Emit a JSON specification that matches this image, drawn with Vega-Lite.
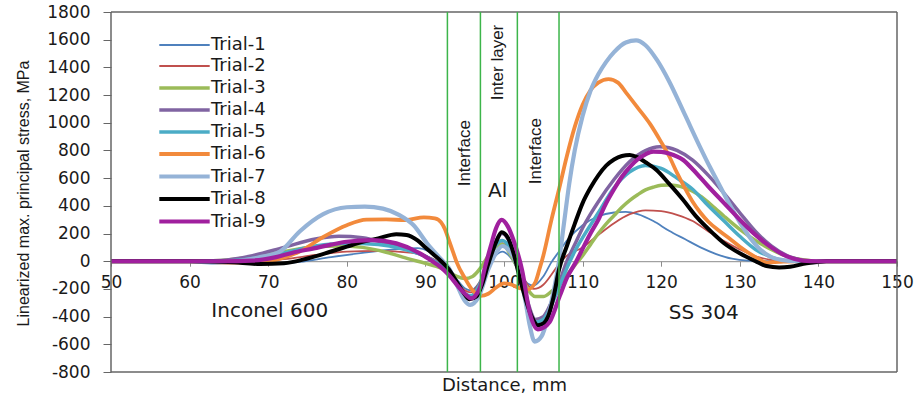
{
  "$schema": "https://vega.github.io/schema/vega-lite/v6.json",
  "width": 786,
  "height": 360,
  "autosize": {"type": "none"},
  "padding": {"left": 111, "top": 12, "right": 22, "bottom": 26},
  "background": "white",
  "config": {
    "view": {"stroke": null},
    "axis": {"grid": false, "labelOverlap": false, "labelFlush": false}
  },
  "datasets": {
    "curves": [
      {"trial":"Trial-1","x":50,"y":0},{"trial":"Trial-1","x":58,"y":0},{"trial":"Trial-1","x":62,"y":-5},{"trial":"Trial-1","x":66,"y":-18},{"trial":"Trial-1","x":70,"y":-20},{"trial":"Trial-1","x":74,"y":-5},{"trial":"Trial-1","x":78,"y":30},{"trial":"Trial-1","x":82,"y":60},{"trial":"Trial-1","x":86,"y":85},{"trial":"Trial-1","x":89,"y":95},{"trial":"Trial-1","x":90.5,"y":70},{"trial":"Trial-1","x":92,"y":10},{"trial":"Trial-1","x":93,"y":-50},{"trial":"Trial-1","x":94,"y":-130},{"trial":"Trial-1","x":95,"y":-195},{"trial":"Trial-1","x":95.8,"y":-210},{"trial":"Trial-1","x":96.8,"y":-160},{"trial":"Trial-1","x":98,"y":-30},{"trial":"Trial-1","x":99,"y":45},{"trial":"Trial-1","x":99.8,"y":70},{"trial":"Trial-1","x":100.8,"y":30},{"trial":"Trial-1","x":102,"y":-80},{"trial":"Trial-1","x":103,"y":-160},{"trial":"Trial-1","x":103.8,"y":-175},{"trial":"Trial-1","x":105,"y":-110},{"trial":"Trial-1","x":106,"y":-10},{"trial":"Trial-1","x":107,"y":70},{"trial":"Trial-1","x":108,"y":150},{"trial":"Trial-1","x":110,"y":260},{"trial":"Trial-1","x":112,"y":325},{"trial":"Trial-1","x":114,"y":352},{"trial":"Trial-1","x":115.5,"y":357},{"trial":"Trial-1","x":117,"y":340},{"trial":"Trial-1","x":119,"y":290},{"trial":"Trial-1","x":121,"y":220},{"trial":"Trial-1","x":123,"y":160},{"trial":"Trial-1","x":125,"y":100},{"trial":"Trial-1","x":127,"y":52},{"trial":"Trial-1","x":129,"y":18},{"trial":"Trial-1","x":131,"y":4},{"trial":"Trial-1","x":134,"y":0},{"trial":"Trial-1","x":150,"y":0},
      {"trial":"Trial-2","x":50,"y":0},{"trial":"Trial-2","x":60,"y":0},{"trial":"Trial-2","x":64,"y":-5},{"trial":"Trial-2","x":68,"y":0},{"trial":"Trial-2","x":72,"y":15},{"trial":"Trial-2","x":76,"y":45},{"trial":"Trial-2","x":80,"y":70},{"trial":"Trial-2","x":84,"y":75},{"trial":"Trial-2","x":88,"y":62},{"trial":"Trial-2","x":90,"y":40},{"trial":"Trial-2","x":92,"y":-20},{"trial":"Trial-2","x":93,"y":-70},{"trial":"Trial-2","x":94,"y":-150},{"trial":"Trial-2","x":95,"y":-210},{"trial":"Trial-2","x":95.8,"y":-225},{"trial":"Trial-2","x":96.8,"y":-160},{"trial":"Trial-2","x":98,"y":0},{"trial":"Trial-2","x":99,"y":105},{"trial":"Trial-2","x":99.8,"y":130},{"trial":"Trial-2","x":100.8,"y":70},{"trial":"Trial-2","x":102,"y":-60},{"trial":"Trial-2","x":103,"y":-170},{"trial":"Trial-2","x":103.8,"y":-200},{"trial":"Trial-2","x":105,"y":-170},{"trial":"Trial-2","x":106,"y":-100},{"trial":"Trial-2","x":107,"y":-20},{"trial":"Trial-2","x":108,"y":40},{"trial":"Trial-2","x":110,"y":100},{"trial":"Trial-2","x":112,"y":190},{"trial":"Trial-2","x":114,"y":275},{"trial":"Trial-2","x":116,"y":340},{"trial":"Trial-2","x":118,"y":368},{"trial":"Trial-2","x":120,"y":362},{"trial":"Trial-2","x":122,"y":335},{"trial":"Trial-2","x":124,"y":290},{"trial":"Trial-2","x":126,"y":215},{"trial":"Trial-2","x":128,"y":145},{"trial":"Trial-2","x":130,"y":85},{"trial":"Trial-2","x":132,"y":35},{"trial":"Trial-2","x":134,"y":10},{"trial":"Trial-2","x":136,"y":0},{"trial":"Trial-2","x":150,"y":0},
      {"trial":"Trial-3","x":50,"y":0},{"trial":"Trial-3","x":60,"y":0},{"trial":"Trial-3","x":64,"y":5},{"trial":"Trial-3","x":68,"y":30},{"trial":"Trial-3","x":72,"y":70},{"trial":"Trial-3","x":76,"y":105},{"trial":"Trial-3","x":79,"y":110},{"trial":"Trial-3","x":82,"y":100},{"trial":"Trial-3","x":85,"y":65},{"trial":"Trial-3","x":88,"y":15},{"trial":"Trial-3","x":90,"y":-15},{"trial":"Trial-3","x":92,"y":-50},{"trial":"Trial-3","x":93,"y":-80},{"trial":"Trial-3","x":94,"y":-110},{"trial":"Trial-3","x":95,"y":-125},{"trial":"Trial-3","x":96,"y":-110},{"trial":"Trial-3","x":97,"y":-50},{"trial":"Trial-3","x":98,"y":40},{"trial":"Trial-3","x":99,"y":105},{"trial":"Trial-3","x":99.8,"y":120},{"trial":"Trial-3","x":100.8,"y":50},{"trial":"Trial-3","x":102,"y":-80},{"trial":"Trial-3","x":103,"y":-200},{"trial":"Trial-3","x":104,"y":-255},{"trial":"Trial-3","x":105,"y":-255},{"trial":"Trial-3","x":106,"y":-220},{"trial":"Trial-3","x":107,"y":-170},{"trial":"Trial-3","x":108,"y":-100},{"trial":"Trial-3","x":109,"y":-30},{"trial":"Trial-3","x":110,"y":40},{"trial":"Trial-3","x":111,"y":120},{"trial":"Trial-3","x":112,"y":200},{"trial":"Trial-3","x":113,"y":270},{"trial":"Trial-3","x":114,"y":330},{"trial":"Trial-3","x":115,"y":390},{"trial":"Trial-3","x":116,"y":440},{"trial":"Trial-3","x":117,"y":480},{"trial":"Trial-3","x":118,"y":515},{"trial":"Trial-3","x":119,"y":535},{"trial":"Trial-3","x":120,"y":548},{"trial":"Trial-3","x":121,"y":550},{"trial":"Trial-3","x":122,"y":545},{"trial":"Trial-3","x":123,"y":530},{"trial":"Trial-3","x":124,"y":505},{"trial":"Trial-3","x":125,"y":470},{"trial":"Trial-3","x":126,"y":425},{"trial":"Trial-3","x":127,"y":375},{"trial":"Trial-3","x":128,"y":325},{"trial":"Trial-3","x":130,"y":230},{"trial":"Trial-3","x":132,"y":150},{"trial":"Trial-3","x":134,"y":85},{"trial":"Trial-3","x":136,"y":35},{"trial":"Trial-3","x":138,"y":10},{"trial":"Trial-3","x":140,"y":0},{"trial":"Trial-3","x":150,"y":0},
      {"trial":"Trial-4","x":50,"y":0},{"trial":"Trial-4","x":60,"y":0},{"trial":"Trial-4","x":64,"y":5},{"trial":"Trial-4","x":68,"y":40},{"trial":"Trial-4","x":72,"y":100},{"trial":"Trial-4","x":76,"y":160},{"trial":"Trial-4","x":79,"y":180},{"trial":"Trial-4","x":82,"y":170},{"trial":"Trial-4","x":85,"y":130},{"trial":"Trial-4","x":88,"y":80},{"trial":"Trial-4","x":90,"y":35},{"trial":"Trial-4","x":92,"y":-30},{"trial":"Trial-4","x":93,"y":-80},{"trial":"Trial-4","x":94,"y":-160},{"trial":"Trial-4","x":95,"y":-235},{"trial":"Trial-4","x":95.8,"y":-255},{"trial":"Trial-4","x":96.8,"y":-190},{"trial":"Trial-4","x":98,"y":-20},{"trial":"Trial-4","x":99,"y":150},{"trial":"Trial-4","x":99.8,"y":200},{"trial":"Trial-4","x":100.8,"y":130},{"trial":"Trial-4","x":102,"y":-60},{"trial":"Trial-4","x":103,"y":-290},{"trial":"Trial-4","x":104,"y":-420},{"trial":"Trial-4","x":105,"y":-400},{"trial":"Trial-4","x":106,"y":-300},{"trial":"Trial-4","x":107,"y":-160},{"trial":"Trial-4","x":108,"y":0},{"trial":"Trial-4","x":109,"y":120},{"trial":"Trial-4","x":110,"y":240},{"trial":"Trial-4","x":111,"y":340},{"trial":"Trial-4","x":112,"y":430},{"trial":"Trial-4","x":114,"y":590},{"trial":"Trial-4","x":116,"y":720},{"trial":"Trial-4","x":118,"y":800},{"trial":"Trial-4","x":119.8,"y":827},{"trial":"Trial-4","x":121,"y":820},{"trial":"Trial-4","x":122,"y":800},{"trial":"Trial-4","x":124,"y":730},{"trial":"Trial-4","x":126,"y":620},{"trial":"Trial-4","x":128,"y":490},{"trial":"Trial-4","x":130,"y":350},{"trial":"Trial-4","x":132,"y":215},{"trial":"Trial-4","x":134,"y":110},{"trial":"Trial-4","x":136,"y":40},{"trial":"Trial-4","x":138,"y":5},{"trial":"Trial-4","x":139.5,"y":-10},{"trial":"Trial-4","x":141,"y":0},{"trial":"Trial-4","x":150,"y":0},
      {"trial":"Trial-5","x":50,"y":0},{"trial":"Trial-5","x":60,"y":0},{"trial":"Trial-5","x":64,"y":0},{"trial":"Trial-5","x":68,"y":20},{"trial":"Trial-5","x":72,"y":60},{"trial":"Trial-5","x":76,"y":110},{"trial":"Trial-5","x":80,"y":130},{"trial":"Trial-5","x":84,"y":120},{"trial":"Trial-5","x":87,"y":90},{"trial":"Trial-5","x":90,"y":35},{"trial":"Trial-5","x":92,"y":-35},{"trial":"Trial-5","x":93,"y":-85},{"trial":"Trial-5","x":94,"y":-165},{"trial":"Trial-5","x":95,"y":-235},{"trial":"Trial-5","x":95.8,"y":-250},{"trial":"Trial-5","x":96.8,"y":-180},{"trial":"Trial-5","x":98,"y":0},{"trial":"Trial-5","x":99,"y":120},{"trial":"Trial-5","x":99.8,"y":150},{"trial":"Trial-5","x":100.8,"y":90},{"trial":"Trial-5","x":102,"y":-90},{"trial":"Trial-5","x":103,"y":-320},{"trial":"Trial-5","x":104,"y":-440},{"trial":"Trial-5","x":105,"y":-420},{"trial":"Trial-5","x":106,"y":-320},{"trial":"Trial-5","x":107,"y":-190},{"trial":"Trial-5","x":108,"y":-50},{"trial":"Trial-5","x":109,"y":70},{"trial":"Trial-5","x":110,"y":170},{"trial":"Trial-5","x":112,"y":350},{"trial":"Trial-5","x":114,"y":530},{"trial":"Trial-5","x":116,"y":645},{"trial":"Trial-5","x":118,"y":692},{"trial":"Trial-5","x":120,"y":670},{"trial":"Trial-5","x":122,"y":600},{"trial":"Trial-5","x":124,"y":520},{"trial":"Trial-5","x":126,"y":400},{"trial":"Trial-5","x":128,"y":290},{"trial":"Trial-5","x":130,"y":180},{"trial":"Trial-5","x":132,"y":85},{"trial":"Trial-5","x":134,"y":30},{"trial":"Trial-5","x":136,"y":3},{"trial":"Trial-5","x":150,"y":0},
      {"trial":"Trial-6","x":50,"y":0},{"trial":"Trial-6","x":60,"y":0},{"trial":"Trial-6","x":64,"y":-10},{"trial":"Trial-6","x":68,"y":-10},{"trial":"Trial-6","x":71,"y":10},{"trial":"Trial-6","x":74,"y":70},{"trial":"Trial-6","x":77,"y":175},{"trial":"Trial-6","x":80,"y":260},{"trial":"Trial-6","x":82.5,"y":300},{"trial":"Trial-6","x":85,"y":302},{"trial":"Trial-6","x":87.5,"y":297},{"trial":"Trial-6","x":89.8,"y":317},{"trial":"Trial-6","x":91.2,"y":310},{"trial":"Trial-6","x":92,"y":280},{"trial":"Trial-6","x":92.5,"y":230},{"trial":"Trial-6","x":93,"y":150},{"trial":"Trial-6","x":93.5,"y":70},{"trial":"Trial-6","x":94,"y":-10},{"trial":"Trial-6","x":95,"y":-120},{"trial":"Trial-6","x":96,"y":-210},{"trial":"Trial-6","x":97,"y":-250},{"trial":"Trial-6","x":98,"y":-235},{"trial":"Trial-6","x":99,"y":-190},{"trial":"Trial-6","x":100,"y":-160},{"trial":"Trial-6","x":101,"y":-170},{"trial":"Trial-6","x":102,"y":-195},{"trial":"Trial-6","x":103,"y":-205},{"trial":"Trial-6","x":104,"y":-150},{"trial":"Trial-6","x":104.5,"y":-60},{"trial":"Trial-6","x":105,"y":40},{"trial":"Trial-6","x":106,"y":290},{"trial":"Trial-6","x":107,"y":520},{"trial":"Trial-6","x":108,"y":760},{"trial":"Trial-6","x":109,"y":970},{"trial":"Trial-6","x":110,"y":1130},{"trial":"Trial-6","x":111,"y":1235},{"trial":"Trial-6","x":112,"y":1290},{"trial":"Trial-6","x":113.3,"y":1315},{"trial":"Trial-6","x":114.5,"y":1290},{"trial":"Trial-6","x":115.5,"y":1220},{"trial":"Trial-6","x":117,"y":1110},{"trial":"Trial-6","x":118.6,"y":990},{"trial":"Trial-6","x":120,"y":860},{"trial":"Trial-6","x":121,"y":760},{"trial":"Trial-6","x":122,"y":640},{"trial":"Trial-6","x":123,"y":530},{"trial":"Trial-6","x":124,"y":430},{"trial":"Trial-6","x":125,"y":350},{"trial":"Trial-6","x":126,"y":285},{"trial":"Trial-6","x":127.5,"y":215},{"trial":"Trial-6","x":129,"y":150},{"trial":"Trial-6","x":130,"y":105},{"trial":"Trial-6","x":132,"y":30},{"trial":"Trial-6","x":133.5,"y":-10},{"trial":"Trial-6","x":135,"y":-5},{"trial":"Trial-6","x":137,"y":0},{"trial":"Trial-6","x":150,"y":0},
      {"trial":"Trial-7","x":50,"y":0},{"trial":"Trial-7","x":60,"y":0},{"trial":"Trial-7","x":63,"y":-10},{"trial":"Trial-7","x":66,"y":0},{"trial":"Trial-7","x":69,"y":30},{"trial":"Trial-7","x":71.5,"y":70},{"trial":"Trial-7","x":74,"y":215},{"trial":"Trial-7","x":77,"y":340},{"trial":"Trial-7","x":80,"y":390},{"trial":"Trial-7","x":82.3,"y":395},{"trial":"Trial-7","x":84.6,"y":380},{"trial":"Trial-7","x":86.7,"y":333},{"trial":"Trial-7","x":88.5,"y":260},{"trial":"Trial-7","x":90.2,"y":130},{"trial":"Trial-7","x":91.9,"y":20},{"trial":"Trial-7","x":93,"y":-50},{"trial":"Trial-7","x":94,"y":-170},{"trial":"Trial-7","x":95,"y":-285},{"trial":"Trial-7","x":95.7,"y":-315},{"trial":"Trial-7","x":96.7,"y":-265},{"trial":"Trial-7","x":98,"y":-60},{"trial":"Trial-7","x":99,"y":60},{"trial":"Trial-7","x":99.8,"y":110},{"trial":"Trial-7","x":100.6,"y":80},{"trial":"Trial-7","x":101.3,"y":20},{"trial":"Trial-7","x":102,"y":-100},{"trial":"Trial-7","x":102.7,"y":-280},{"trial":"Trial-7","x":103.3,"y":-470},{"trial":"Trial-7","x":103.9,"y":-580},{"trial":"Trial-7","x":104.8,"y":-540},{"trial":"Trial-7","x":105.6,"y":-400},{"trial":"Trial-7","x":106.3,"y":-220},{"trial":"Trial-7","x":107,"y":0},{"trial":"Trial-7","x":107.6,"y":260},{"trial":"Trial-7","x":108.3,"y":560},{"trial":"Trial-7","x":109,"y":800},{"trial":"Trial-7","x":110,"y":1050},{"trial":"Trial-7","x":111,"y":1230},{"trial":"Trial-7","x":112,"y":1350},{"trial":"Trial-7","x":113,"y":1440},{"trial":"Trial-7","x":114,"y":1510},{"trial":"Trial-7","x":115.5,"y":1580},{"trial":"Trial-7","x":116.8,"y":1595},{"trial":"Trial-7","x":118,"y":1560},{"trial":"Trial-7","x":119.5,"y":1450},{"trial":"Trial-7","x":121,"y":1300},{"trial":"Trial-7","x":123,"y":1060},{"trial":"Trial-7","x":124.9,"y":830},{"trial":"Trial-7","x":126.2,"y":680},{"trial":"Trial-7","x":127.5,"y":540},{"trial":"Trial-7","x":128.8,"y":400},{"trial":"Trial-7","x":130,"y":280},{"trial":"Trial-7","x":131.3,"y":170},{"trial":"Trial-7","x":132.6,"y":85},{"trial":"Trial-7","x":134,"y":30},{"trial":"Trial-7","x":135.5,"y":8},{"trial":"Trial-7","x":137,"y":0},{"trial":"Trial-7","x":150,"y":0},
      {"trial":"Trial-8","x":50,"y":0},{"trial":"Trial-8","x":60,"y":0},{"trial":"Trial-8","x":65,"y":-5},{"trial":"Trial-8","x":69,"y":-20},{"trial":"Trial-8","x":72,"y":-15},{"trial":"Trial-8","x":75,"y":20},{"trial":"Trial-8","x":78,"y":70},{"trial":"Trial-8","x":80,"y":105},{"trial":"Trial-8","x":82,"y":140},{"trial":"Trial-8","x":84,"y":165},{"trial":"Trial-8","x":86.3,"y":195},{"trial":"Trial-8","x":87.6,"y":190},{"trial":"Trial-8","x":89,"y":150},{"trial":"Trial-8","x":90,"y":100},{"trial":"Trial-8","x":91,"y":50},{"trial":"Trial-8","x":92,"y":0},{"trial":"Trial-8","x":93,"y":-60},{"trial":"Trial-8","x":94,"y":-150},{"trial":"Trial-8","x":95,"y":-240},{"trial":"Trial-8","x":95.6,"y":-275},{"trial":"Trial-8","x":96.5,"y":-255},{"trial":"Trial-8","x":97.2,"y":-170},{"trial":"Trial-8","x":98,"y":-20},{"trial":"Trial-8","x":99,"y":140},{"trial":"Trial-8","x":99.7,"y":210},{"trial":"Trial-8","x":100.5,"y":170},{"trial":"Trial-8","x":101.3,"y":40},{"trial":"Trial-8","x":102,"y":-120},{"trial":"Trial-8","x":103,"y":-320},{"trial":"Trial-8","x":103.6,"y":-410},{"trial":"Trial-8","x":104.3,"y":-462},{"trial":"Trial-8","x":105,"y":-450},{"trial":"Trial-8","x":105.6,"y":-400},{"trial":"Trial-8","x":106.3,"y":-260},{"trial":"Trial-8","x":107,"y":-60},{"trial":"Trial-8","x":108,"y":110},{"trial":"Trial-8","x":109,"y":270},{"trial":"Trial-8","x":110,"y":420},{"trial":"Trial-8","x":111,"y":530},{"trial":"Trial-8","x":112,"y":620},{"trial":"Trial-8","x":113,"y":690},{"trial":"Trial-8","x":114,"y":735},{"trial":"Trial-8","x":115,"y":760},{"trial":"Trial-8","x":116,"y":767},{"trial":"Trial-8","x":117,"y":750},{"trial":"Trial-8","x":118,"y":715},{"trial":"Trial-8","x":119.4,"y":659},{"trial":"Trial-8","x":121,"y":560},{"trial":"Trial-8","x":122.8,"y":442},{"trial":"Trial-8","x":124.5,"y":320},{"trial":"Trial-8","x":126.6,"y":201},{"trial":"Trial-8","x":128,"y":130},{"trial":"Trial-8","x":130,"y":57},{"trial":"Trial-8","x":132,"y":0},{"trial":"Trial-8","x":133.4,"y":-35},{"trial":"Trial-8","x":135,"y":-45},{"trial":"Trial-8","x":136.4,"y":-40},{"trial":"Trial-8","x":138.5,"y":-15},{"trial":"Trial-8","x":141,"y":0},{"trial":"Trial-8","x":150,"y":0},
      {"trial":"Trial-9","x":50,"y":0},{"trial":"Trial-9","x":60,"y":0},{"trial":"Trial-9","x":64,"y":0},{"trial":"Trial-9","x":68,"y":5},{"trial":"Trial-9","x":71,"y":30},{"trial":"Trial-9","x":73,"y":60},{"trial":"Trial-9","x":75.8,"y":93},{"trial":"Trial-9","x":78,"y":120},{"trial":"Trial-9","x":80,"y":141},{"trial":"Trial-9","x":83.2,"y":153},{"trial":"Trial-9","x":86.3,"y":129},{"trial":"Trial-9","x":89.3,"y":57},{"trial":"Trial-9","x":90.6,"y":10},{"trial":"Trial-9","x":91.9,"y":-40},{"trial":"Trial-9","x":93,"y":-100},{"trial":"Trial-9","x":94,"y":-170},{"trial":"Trial-9","x":95.2,"y":-244},{"trial":"Trial-9","x":95.8,"y":-268},{"trial":"Trial-9","x":96.9,"y":-196},{"trial":"Trial-9","x":97.6,"y":-40},{"trial":"Trial-9","x":98.3,"y":105},{"trial":"Trial-9","x":99,"y":240},{"trial":"Trial-9","x":99.7,"y":298},{"trial":"Trial-9","x":100.5,"y":250},{"trial":"Trial-9","x":101.2,"y":153},{"trial":"Trial-9","x":102.3,"y":-64},{"trial":"Trial-9","x":103.3,"y":-378},{"trial":"Trial-9","x":104.3,"y":-492},{"trial":"Trial-9","x":105,"y":-480},{"trial":"Trial-9","x":105.8,"y":-440},{"trial":"Trial-9","x":107.1,"y":-250},{"trial":"Trial-9","x":108,"y":-120},{"trial":"Trial-9","x":109.2,"y":0},{"trial":"Trial-9","x":110,"y":90},{"trial":"Trial-9","x":111,"y":200},{"trial":"Trial-9","x":112,"y":300},{"trial":"Trial-9","x":113,"y":420},{"trial":"Trial-9","x":114,"y":520},{"trial":"Trial-9","x":115,"y":610},{"trial":"Trial-9","x":116,"y":680},{"trial":"Trial-9","x":117,"y":735},{"trial":"Trial-9","x":118,"y":772},{"trial":"Trial-9","x":119,"y":791},{"trial":"Trial-9","x":120,"y":790},{"trial":"Trial-9","x":121,"y":778},{"trial":"Trial-9","x":122.8,"y":731},{"trial":"Trial-9","x":124,"y":665},{"trial":"Trial-9","x":126,"y":540},{"trial":"Trial-9","x":128,"y":420},{"trial":"Trial-9","x":130,"y":300},{"trial":"Trial-9","x":132,"y":190},{"trial":"Trial-9","x":134,"y":100},{"trial":"Trial-9","x":136,"y":35},{"trial":"Trial-9","x":138,"y":5},{"trial":"Trial-9","x":140,"y":0},{"trial":"Trial-9","x":150,"y":0}
    ],
    "vframe": [{"x": 50}, {"x": 150}],
    "hframe": [{"y": -800}, {"y": 1800}],
    "bounds": [{"x": 92.8}, {"x": 97.0}, {"x": 101.7}, {"x": 107.0}],
    "labels": [
      {"label": "Inconel 600", "x": 70.2, "y": -360},
      {"label": "SS 304", "x": 125.4, "y": -372},
      {"label": "Al", "x": 99.2, "y": 507}
    ],
    "vlabels": [
      {"label": "Interface", "x": 95.0, "y": 780},
      {"label": "Inter layer", "x": 99.2, "y": 1435},
      {"label": "Interface", "x": 104.1, "y": 795}
    ]
  },
  "layer": [
    {
      "data": {"name": "curves"},
      "mark": {"type": "line", "interpolate": "monotone"},
      "encoding": {
        "x": {
          "field": "x", "type": "quantitative",
          "scale": {"domain": [50, 150], "nice": false, "zero": false},
          "axis": {
            "title": "Distance, mm",
            "values": [50, 60, 70, 80, 90, 100, 110, 120, 130, 140, 150],
            "offset": -110.8,
            "domainColor": "#8c8c8c", "domainWidth": 1,
            "tickColor": "#8c8c8c", "tickSize": 5,
            "labelPadding": 8, "labelFont": "DejaVu Sans", "labelFontSize": 17,
            "labelColor": "#1a1a1a", "labelFlush": false, "labelOverlap": false,
            "titleFont": "DejaVu Sans", "titleFontSize": 18, "titleFontWeight": "normal",
            "titleColor": "#1a1a1a", "titleX": 393, "titleY": 128.8,
            "titleBaseline": "alphabetic", "titleAlign": "center"
          }
        },
        "y": {
          "field": "y", "type": "quantitative",
          "scale": {"domain": [-800, 1800], "nice": false, "zero": false},
          "axis": {
            "title": "Linearized max. principal stress, MPa",
            "values": [-800, -600, -400, -200, 0, 200, 400, 600, 800, 1000, 1200, 1400, 1600, 1800],
            "labelExpr": "datum.value < 0 ? '-' + abs(datum.value) : '' + datum.value",
            "domain": false,
            "tickColor": "#666666", "tickSize": 8,
            "labelPadding": 13, "labelFont": "DejaVu Sans", "labelFontSize": 17,
            "labelColor": "#1a1a1a", "labelOverlap": false, "labelFlush": false,
            "titleFont": "Liberation Sans", "titleFontSize": 16, "titleFontWeight": "normal",
            "titleColor": "#1a1a1a", "titleX": -83, "titleY": 181, "titleAngle": 270,
            "titleBaseline": "alphabetic", "titleAlign": "center"
          }
        },
        "color": {
          "field": "trial", "type": "nominal",
          "scale": {
            "domain": ["Trial-1", "Trial-2", "Trial-3", "Trial-4", "Trial-5", "Trial-6", "Trial-7", "Trial-8", "Trial-9"],
            "range": ["#4f81bd", "#c0504d", "#9bbb59", "#8064a2", "#4bacc6", "#f28a3c", "#95b3d7", "#000000", "#a0209e"]
          },
          "legend": {
            "title": null, "orient": "none", "legendX": 62, "legendY": 23,
            "symbolType": "M-2.8,0H2.8", "symbolSize": 324, "labelOffset": 15,
            "rowPadding": 2, "padding": 0,
            "labelFont": "DejaVu Sans", "labelFontSize": 18, "labelColor": "#1a1a1a"
          }
        },
        "strokeWidth": {
          "field": "trial", "type": "nominal",
          "scale": {
            "type": "ordinal",
            "domain": ["Trial-1", "Trial-2", "Trial-3", "Trial-4", "Trial-5", "Trial-6", "Trial-7", "Trial-8", "Trial-9"],
            "range": [1.8, 1.8, 3.5, 3.5, 3.5, 3.8, 4.2, 4, 4.2]
          },
          "legend": {
            "title": null, "orient": "none", "legendX": 62, "legendY": 23,
            "symbolType": "M-2.8,0H2.8", "symbolSize": 324, "labelOffset": 15,
            "rowPadding": 2, "padding": 0,
            "labelFont": "DejaVu Sans", "labelFontSize": 18, "labelColor": "#1a1a1a"
          }
        }
      }
    },
    {
      "data": {"name": "vframe"},
      "mark": {"type": "rule", "color": "#666666", "strokeWidth": 1.5},
      "encoding": {
        "x": {
          "field": "x", "type": "quantitative",
          "axis": {
            "title": "Distance, mm",
            "values": [50, 60, 70, 80, 90, 100, 110, 120, 130, 140, 150],
            "offset": -110.8,
            "domainColor": "#8c8c8c", "domainWidth": 1,
            "tickColor": "#8c8c8c", "tickSize": 5,
            "labelPadding": 8, "labelFont": "DejaVu Sans", "labelFontSize": 17,
            "labelColor": "#1a1a1a", "labelFlush": false, "labelOverlap": false,
            "titleFont": "DejaVu Sans", "titleFontSize": 18, "titleFontWeight": "normal",
            "titleColor": "#1a1a1a", "titleX": 393, "titleY": 128.8,
            "titleBaseline": "alphabetic", "titleAlign": "center"
          }
        }
      }
    },
    {
      "data": {"name": "hframe"},
      "mark": {"type": "rule", "color": "#666666", "strokeWidth": 1.5},
      "encoding": {
        "y": {
          "field": "y", "type": "quantitative",
          "axis": {
            "title": "Linearized max. principal stress, MPa",
            "values": [-800, -600, -400, -200, 0, 200, 400, 600, 800, 1000, 1200, 1400, 1600, 1800],
            "labelExpr": "datum.value < 0 ? '-' + abs(datum.value) : '' + datum.value",
            "domain": false,
            "tickColor": "#666666", "tickSize": 8,
            "labelPadding": 13, "labelFont": "DejaVu Sans", "labelFontSize": 17,
            "labelColor": "#1a1a1a", "labelOverlap": false, "labelFlush": false,
            "titleFont": "Liberation Sans", "titleFontSize": 16, "titleFontWeight": "normal",
            "titleColor": "#1a1a1a", "titleX": -83, "titleY": 181, "titleAngle": 270,
            "titleBaseline": "alphabetic", "titleAlign": "center"
          }
        }
      }
    },
    {
      "data": {"name": "bounds"},
      "mark": {"type": "rule", "color": "#3cb54a", "strokeWidth": 1.5},
      "encoding": {
        "x": {
          "field": "x", "type": "quantitative",
          "axis": {
            "title": "Distance, mm",
            "values": [50, 60, 70, 80, 90, 100, 110, 120, 130, 140, 150],
            "offset": -110.8,
            "domainColor": "#8c8c8c", "domainWidth": 1,
            "tickColor": "#8c8c8c", "tickSize": 5,
            "labelPadding": 8, "labelFont": "DejaVu Sans", "labelFontSize": 17,
            "labelColor": "#1a1a1a", "labelFlush": false, "labelOverlap": false,
            "titleFont": "DejaVu Sans", "titleFontSize": 18, "titleFontWeight": "normal",
            "titleColor": "#1a1a1a", "titleX": 393, "titleY": 128.8,
            "titleBaseline": "alphabetic", "titleAlign": "center"
          }
        }
      }
    },
    {
      "data": {"name": "labels"},
      "mark": {"type": "text", "font": "DejaVu Sans", "fontSize": 20, "color": "#1a1a1a", "align": "center", "baseline": "middle"},
      "encoding": {
        "x": {
          "field": "x", "type": "quantitative",
          "axis": {
            "title": "Distance, mm",
            "values": [50, 60, 70, 80, 90, 100, 110, 120, 130, 140, 150],
            "offset": -110.8,
            "domainColor": "#8c8c8c", "domainWidth": 1,
            "tickColor": "#8c8c8c", "tickSize": 5,
            "labelPadding": 8, "labelFont": "DejaVu Sans", "labelFontSize": 17,
            "labelColor": "#1a1a1a", "labelFlush": false, "labelOverlap": false,
            "titleFont": "DejaVu Sans", "titleFontSize": 18, "titleFontWeight": "normal",
            "titleColor": "#1a1a1a", "titleX": 393, "titleY": 128.8,
            "titleBaseline": "alphabetic", "titleAlign": "center"
          }
        },
        "y": {
          "field": "y", "type": "quantitative",
          "axis": {
            "title": "Linearized max. principal stress, MPa",
            "values": [-800, -600, -400, -200, 0, 200, 400, 600, 800, 1000, 1200, 1400, 1600, 1800],
            "labelExpr": "datum.value < 0 ? '-' + abs(datum.value) : '' + datum.value",
            "domain": false,
            "tickColor": "#666666", "tickSize": 8,
            "labelPadding": 13, "labelFont": "DejaVu Sans", "labelFontSize": 17,
            "labelColor": "#1a1a1a", "labelOverlap": false, "labelFlush": false,
            "titleFont": "Liberation Sans", "titleFontSize": 16, "titleFontWeight": "normal",
            "titleColor": "#1a1a1a", "titleX": -83, "titleY": 181, "titleAngle": 270,
            "titleBaseline": "alphabetic", "titleAlign": "center"
          }
        },
        "text": {"field": "label", "type": "nominal"}
      }
    },
    {
      "data": {"name": "vlabels"},
      "mark": {"type": "text", "font": "Liberation Sans", "fontSize": 17, "color": "#1a1a1a", "align": "center", "baseline": "middle", "angle": 270},
      "encoding": {
        "x": {
          "field": "x", "type": "quantitative",
          "axis": {
            "title": "Distance, mm",
            "values": [50, 60, 70, 80, 90, 100, 110, 120, 130, 140, 150],
            "offset": -110.8,
            "domainColor": "#8c8c8c", "domainWidth": 1,
            "tickColor": "#8c8c8c", "tickSize": 5,
            "labelPadding": 8, "labelFont": "DejaVu Sans", "labelFontSize": 17,
            "labelColor": "#1a1a1a", "labelFlush": false, "labelOverlap": false,
            "titleFont": "DejaVu Sans", "titleFontSize": 18, "titleFontWeight": "normal",
            "titleColor": "#1a1a1a", "titleX": 393, "titleY": 128.8,
            "titleBaseline": "alphabetic", "titleAlign": "center"
          }
        },
        "y": {
          "field": "y", "type": "quantitative",
          "axis": {
            "title": "Linearized max. principal stress, MPa",
            "values": [-800, -600, -400, -200, 0, 200, 400, 600, 800, 1000, 1200, 1400, 1600, 1800],
            "labelExpr": "datum.value < 0 ? '-' + abs(datum.value) : '' + datum.value",
            "domain": false,
            "tickColor": "#666666", "tickSize": 8,
            "labelPadding": 13, "labelFont": "DejaVu Sans", "labelFontSize": 17,
            "labelColor": "#1a1a1a", "labelOverlap": false, "labelFlush": false,
            "titleFont": "Liberation Sans", "titleFontSize": 16, "titleFontWeight": "normal",
            "titleColor": "#1a1a1a", "titleX": -83, "titleY": 181, "titleAngle": 270,
            "titleBaseline": "alphabetic", "titleAlign": "center"
          }
        },
        "text": {"field": "label", "type": "nominal"}
      }
    }
  ]
}
